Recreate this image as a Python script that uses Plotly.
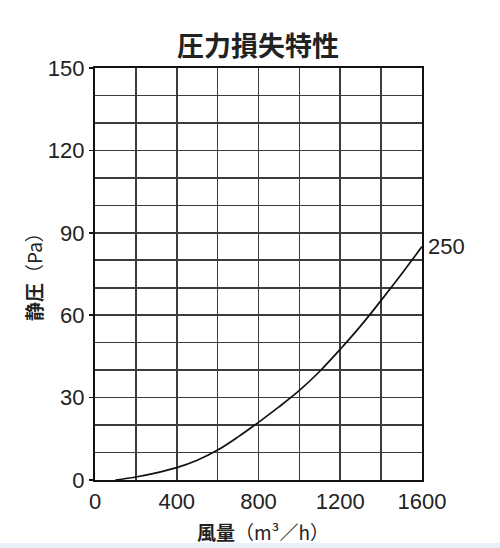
import plotly.graph_objects as go

# Data
airflow = [100, 200, 300, 400, 500, 600, 700, 800, 900, 1000, 1100, 1200, 1300, 1400, 1500, 1600]
static_pressure = [0, 1.1, 2.6, 4.5, 7.2, 10.9, 15.7, 21.0, 26.6, 32.6, 39.6, 47.6, 56.1, 65.4, 75.0, 85.0]
curve_label = "250"
title_text = "<b>圧力損失特性</b>"
x_title = "<b>風量</b>（m³／h）"
y_title = "<b>静圧</b>（Pa）"
x_ticks = [0, 400, 800, 1200, 1600]
y_ticks = [0, 30, 60, 90, 120, 150]

W, H = 500, 548
L, R, T, B = 95, 78, 68, 68
plot_w = W - L - R
plot_h = H - T - B

def px_to_paper_x(px):
    return (px - L) / plot_w

def px_to_paper_y(py):
    return (H - B - py) / plot_h

fig = go.Figure()
fig.add_trace(go.Scatter(
    x=airflow, y=static_pressure, mode="lines",
    line=dict(color="#111111", width=1.7, shape="spline", smoothing=1.0),
    showlegend=False, hoverinfo="skip",
))

grid_color = "#3c3c3c"
tick_font = dict(family="Liberation Sans, Arial", size=22, color="#222222")
fig.update_xaxes(
    range=[0, 1600], tickvals=x_ticks, ticktext=[str(v) for v in x_ticks],
    showgrid=True, gridcolor=grid_color, gridwidth=1.6,
    minor=dict(dtick=200, showgrid=True, gridcolor=grid_color, gridwidth=1.6, tick0=0),
    showline=True, linecolor="#111111", linewidth=2.2, mirror=True,
    ticks="", tickfont=tick_font,
    zeroline=False, fixedrange=True,
)
fig.update_yaxes(
    range=[0, 150], tickvals=y_ticks, ticktext=[str(v) for v in y_ticks],
    showgrid=True, gridcolor=grid_color, gridwidth=1.6,
    minor=dict(dtick=10, showgrid=True, gridcolor=grid_color, gridwidth=1.6, tick0=0),
    showline=True, linecolor="#111111", linewidth=2.2, mirror=True,
    ticks="outside", ticklen=4, tickcolor="#111111", tickwidth=1.5,
    tickfont=tick_font,
    zeroline=False, fixedrange=True,
)

annotations = [
    dict(text=title_text, x=px_to_paper_x(258), y=px_to_paper_y(44), xref="paper", yref="paper",
         showarrow=False, xanchor="center", yanchor="middle",
         font=dict(family="Noto Sans CJK JP", size=27, color="#222222")),
    dict(text=x_title, x=px_to_paper_x(263), y=px_to_paper_y(531), xref="paper", yref="paper",
         showarrow=False, xanchor="center", yanchor="middle",
         font=dict(family="Noto Sans CJK JP", size=19, color="#222222")),
    dict(text=y_title, x=px_to_paper_x(33), y=px_to_paper_y(272), xref="paper", yref="paper",
         showarrow=False, xanchor="center", yanchor="middle", textangle=-90,
         font=dict(family="Noto Sans CJK JP", size=19, color="#222222")),
    dict(text=curve_label, x=airflow[-1], y=static_pressure[-1], xref="x", yref="y",
         showarrow=False, xanchor="left", yanchor="middle", xshift=4,
         font=tick_font),
]

fig.update_layout(
    width=W, height=H, autosize=False,
    margin=dict(l=L, r=R, t=T, b=B, pad=0),
    paper_bgcolor="white", plot_bgcolor="white",
    annotations=annotations,
    shapes=[dict(type="rect", xref="paper", yref="paper",
                 x0=-1, x1=2, y0=px_to_paper_y(560), y1=px_to_paper_y(543),
                 fillcolor="#e8f1fb", line=dict(width=0), layer="above")],
)

fig.write_html("out.html", config={"displayModeBar": False, "staticPlot": True},
               post_script="document.body.style.margin='0';document.body.style.overflow='hidden';")
